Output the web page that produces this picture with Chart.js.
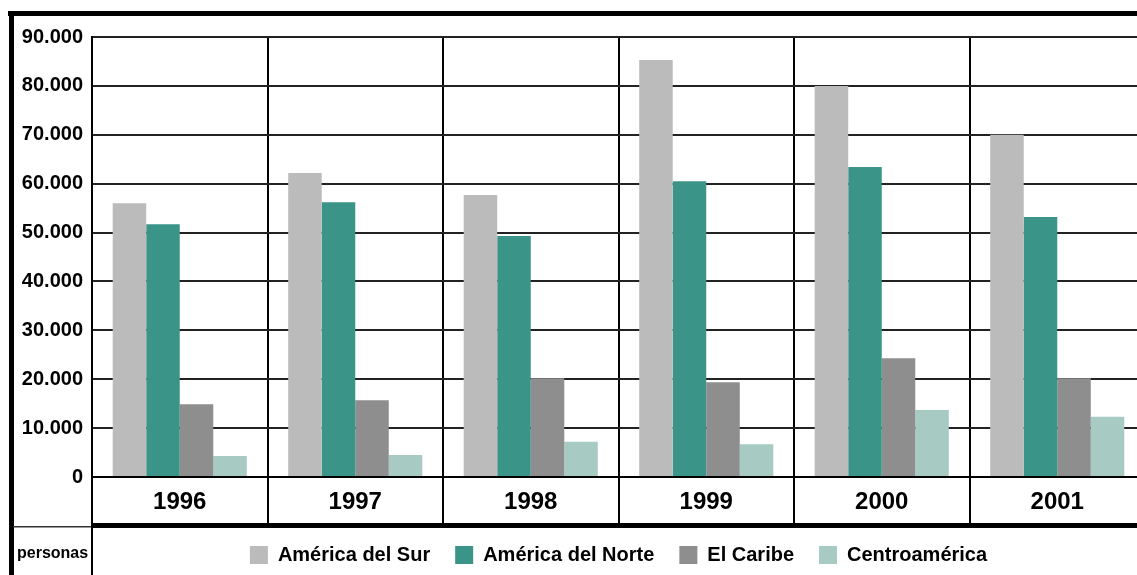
<!DOCTYPE html>
<html>
<head>
<meta charset="utf-8">
<script src="https://cdn.jsdelivr.net/npm/chart.js@4"></script>
<style>
  html, body { margin: 0; padding: 0; background: #fff; overflow: hidden; }
  canvas { display: block; }
</style>
</head>
<body>
<canvas id="inmigrantesChart" width="1146" height="575"></canvas>
<script>
  // Personas por región de origen, 1996-2001
  const years = ['1996', '1997', '1998', '1999', '2000', '2001'];
  const americaSur = [56000, 62200, 57700, 85300, 80000, 70000];
  const americaNorte = [51700, 56200, 49300, 60500, 63400, 53200];
  const elCaribe = [14900, 15700, 20200, 19400, 24300, 20200];
  const centroamerica = [4300, 4500, 7200, 6700, 13700, 12300];

  const FONT = 'Liberation Sans, Arial, sans-serif';

  // miles con punto: 90000 -> 90.000
  function formatMiles(v) {
      return String(v).replace(/\B(?=(\d{3})+(?!\d))/g, '.');
  }

  // marco de la tabla y la etiqueta "personas"
  const marco = {
      id: 'marco',
      afterDraw(chart) {
          const ctx = chart.ctx;
          const area = chart.chartArea;
          const w = chart.width;
          const h = chart.height;
          ctx.save();
          ctx.fillStyle = '#000';
          ctx.fillRect(8, 11, w, 5);          // borde superior
          ctx.fillRect(9, 11, 5, h);          // borde izquierdo
          ctx.fillRect(area.left, 523, w, 5); // línea bajo los años
          ctx.fillStyle = '#333';
          ctx.fillRect(13, 526, area.left - 13, 1.5);
          ctx.fillStyle = '#000';
          ctx.fillRect(area.left - 1, 477, 2, h); // eje hasta la leyenda
          ctx.font = 'bold 16px ' + FONT;
          ctx.textAlign = 'left';
          ctx.textBaseline = 'alphabetic';
          ctx.fillText('personas', 17, 558);
          ctx.restore();
      }
  };

  Chart.defaults.color = '#000';

  const ctx = document.getElementById('inmigrantesChart').getContext('2d');
  new Chart(ctx, {
      type: 'bar',
      data: {
          labels: years,
          datasets: [
              { label: 'América del Sur', data: americaSur, backgroundColor: '#BBBBBB' },
              { label: 'América del Norte', data: americaNorte, backgroundColor: '#3B9488' },
              { label: 'El Caribe', data: elCaribe, backgroundColor: '#8E8E8E' },
              { label: 'Centroamérica', data: centroamerica, backgroundColor: '#A7CAC3' }
          ]
      },
      options: {
          responsive: false,
          animation: false,
          layout: { padding: { top: 37, right: 1, bottom: 0, left: 0 } },
          datasets: {
              bar: { barPercentage: 1, categoryPercentage: 0.764, borderWidth: 0 }
          },
          scales: {
              x: {
                  afterFit: (s) => { s.height = 43; },
                  grid: { color: '#000', lineWidth: 2, tickLength: 47, offset: true },
                  border: { color: '#000', width: 2 },
                  ticks: {
                      padding: -36,
                      font: { family: FONT, size: 24, weight: 'bold' }
                  }
              },
              y: {
                  min: 0,
                  max: 90000,
                  afterFit: (s) => { s.width = 92; },
                  grid: { color: '#222', lineWidth: 2, drawTicks: false },
                  border: { color: '#000', width: 2 },
                  ticks: {
                      stepSize: 10000,
                      padding: 9,
                      font: { family: FONT, size: 20, weight: 'bold' },
                      callback: (v) => formatMiles(v)
                  }
              }
          },
          plugins: {
              tooltip: { enabled: false },
              legend: {
                  position: 'bottom',
                  fullSize: false,
                  labels: {
                      boxWidth: 18,
                      boxHeight: 18,
                      padding: 25,
                      font: { family: FONT, size: 20, weight: 'bold' }
                  }
              }
          }
      },
      plugins: [marco]
  });
</script>
</body>
</html>
